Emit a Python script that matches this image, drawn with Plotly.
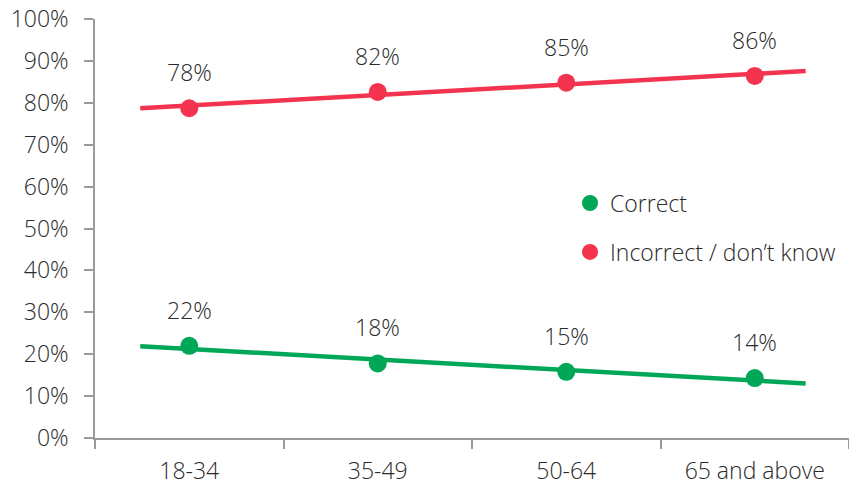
import numpy as np
import plotly.graph_objects as go

categories = ["18-34", "35-49", "50-64", "65 and above"]
correct = [22.0, 17.8, 15.8, 14.3]
incorrect = [78.7, 82.6, 84.8, 86.4]
correct_labels = ["22%", "18%", "15%", "14%"]
incorrect_labels = ["78%", "82%", "85%", "86%"]
y_ticks = list(range(0, 101, 10))
y_tick_labels = [f"{v}%" for v in y_ticks]

RED = "#F4344F"
GREEN = "#00A757"
TEXT = "#2a2a2a"
FONT = "Open Sans"
FS = 23

xpos = np.arange(len(categories))
trend_x = np.array([-0.26, 3.27])

fig = go.Figure()
for vals, color, name in [(correct, GREEN, "Correct"), (incorrect, RED, "Incorrect / don\u2019t know")]:
    slope, icpt = np.polyfit(xpos, vals, 1)
    fig.add_trace(go.Scatter(x=trend_x, y=slope * trend_x + icpt, mode="lines",
                             line=dict(color=color, width=4.5), showlegend=False, hoverinfo="skip"))
for vals, color, name in [(correct, GREEN, "Correct"), (incorrect, RED, "Incorrect / don\u2019t know")]:
    fig.add_trace(go.Scatter(x=xpos, y=vals, mode="markers", name=name, legendgroup=name,
                             marker=dict(color=color, size=18)))

for vals, labels in [(correct, correct_labels), (incorrect, incorrect_labels)]:
    for xi, v, t in zip(xpos, vals, labels):
        fig.add_annotation(x=xi, y=v, text=t, showarrow=False, yshift=36,
                           font=dict(family=FONT, size=FS, color=TEXT, weight=300))

fig.update_layout(
    width=849, height=490,
    margin=dict(l=95, r=0, t=19, b=52),
    plot_bgcolor="white", paper_bgcolor="white",
    font=dict(family=FONT, size=FS, color=TEXT, weight=300),
    legend=dict(x=0.63, y=0.612, xanchor="left", yanchor="top", bgcolor="rgba(0,0,0,0)",
                tracegroupgap=16, itemwidth=30,
                font=dict(family=FONT, size=FS, color=TEXT, weight=300)),
    xaxis=dict(range=[-0.5, 3.5], tickmode="array", tickvals=list(xpos), ticktext=categories,
               ticks="", showgrid=False, zeroline=False, showline=True, linecolor="#9a9a9a", linewidth=1.5,
               ticklabelstandoff=12,
               minor=dict(tick0=0.5, dtick=1, ticks="outside", ticklen=9, tickcolor="#9a9a9a", tickwidth=1.5)),
    yaxis=dict(range=[0, 100], tickmode="array", tickvals=y_ticks, ticktext=y_tick_labels,
               ticks="outside", ticklen=9, tickcolor="#9a9a9a", tickwidth=1.5,
               showgrid=False, zeroline=False, showline=True, linecolor="#9a9a9a", linewidth=1.5,
               ticklabelstandoff=11),
)

fig.write_html("out.html")
